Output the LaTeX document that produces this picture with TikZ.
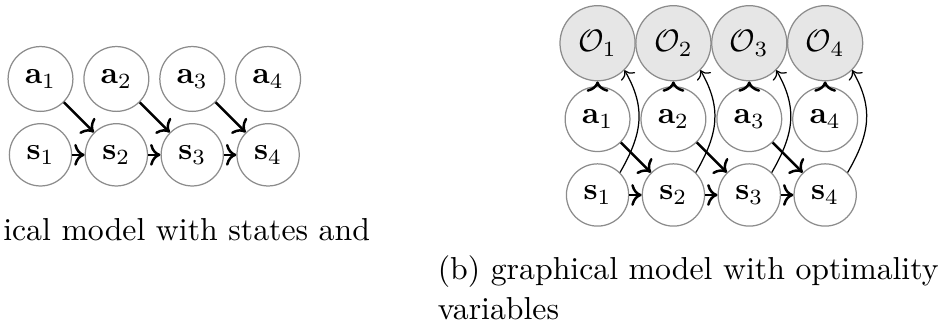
\documentclass[tikz,border=0pt]{standalone}
\usetikzlibrary{arrows.meta}
\definecolor{node-fill}{HTML}{E6E6E6}
\definecolor{node-border}{HTML}{8C8C8C}
\tikzset{
  pgm-var/.style={circle, draw=node-border, thin},
  pgm-opt/.style={circle, draw=node-border, fill=node-fill, thin},
  pgm-edge/.style={-{To}, thick},
  pgm-link/.style={-{To}, thin},
  subcap/.style={inner sep=0pt, align=left,
    font=\fontsize{10.25}{12.9}\selectfont}
}

\begin{document}
\begin{tikzpicture}
  \useasboundingbox (0, 0) rectangle (10.70, 3.685);

  % (a) states and actions
  \node[pgm-var] (a1) at (0.459, 2.79) {$\mathbf{a}_1$};
  \node[pgm-var] (a2) at (1.319, 2.79) {$\mathbf{a}_2$};
  \node[pgm-var] (a3) at (2.179, 2.79) {$\mathbf{a}_3$};
  \node[pgm-var] (a4) at (3.039, 2.79) {$\mathbf{a}_4$};

  \node[pgm-var] (s1) at (0.459, 1.93) {$\mathbf{s}_1$};
  \node[pgm-var] (s2) at (1.319, 1.93) {$\mathbf{s}_2$};
  \node[pgm-var] (s3) at (2.179, 1.93) {$\mathbf{s}_3$};
  \node[pgm-var] (s4) at (3.039, 1.93) {$\mathbf{s}_4$};

  \draw[pgm-edge] (a1) -- (s2);
  \draw[pgm-edge] (a2) -- (s3);
  \draw[pgm-edge] (a3) -- (s4);
  \draw[pgm-edge] (s1) -- (s2);
  \draw[pgm-edge] (s2) -- (s3);
  \draw[pgm-edge] (s3) -- (s4);

  \node[subcap, anchor=base west] (cap-a) at (0.03, 0.964)
    {ical model with states and};

  % (b) with optimality variables
  \node[pgm-opt] (o1) at (6.773, 3.195) {$\mathcal{O}_1$};
  \node[pgm-opt] (o2) at (7.633, 3.195) {$\mathcal{O}_2$};
  \node[pgm-opt] (o3) at (8.493, 3.195) {$\mathcal{O}_3$};
  \node[pgm-opt] (o4) at (9.353, 3.195) {$\mathcal{O}_4$};

  \node[pgm-var] (ra1) at (6.773, 2.335) {$\mathbf{a}_1$};
  \node[pgm-var] (ra2) at (7.633, 2.335) {$\mathbf{a}_2$};
  \node[pgm-var] (ra3) at (8.493, 2.335) {$\mathbf{a}_3$};
  \node[pgm-var] (ra4) at (9.353, 2.335) {$\mathbf{a}_4$};

  \node[pgm-var] (rs1) at (6.773, 1.475) {$\mathbf{s}_1$};
  \node[pgm-var] (rs2) at (7.633, 1.475) {$\mathbf{s}_2$};
  \node[pgm-var] (rs3) at (8.493, 1.475) {$\mathbf{s}_3$};
  \node[pgm-var] (rs4) at (9.353, 1.475) {$\mathbf{s}_4$};

  \draw[pgm-edge] (ra1) -- (o1);
  \draw[pgm-edge] (ra2) -- (o2);
  \draw[pgm-edge] (ra3) -- (o3);
  \draw[pgm-edge] (ra4) -- (o4);

  \draw[pgm-edge] (ra1) -- (rs2);
  \draw[pgm-edge] (ra2) -- (rs3);
  \draw[pgm-edge] (ra3) -- (rs4);
  \draw[pgm-edge] (rs1) -- (rs2);
  \draw[pgm-edge] (rs2) -- (rs3);
  \draw[pgm-edge] (rs3) -- (rs4);

  % state to optimality, bent to the right
  \draw[pgm-link] (rs1.45) to[out=60, in=-60, looseness=1.1] (o1.-45);
  \draw[pgm-link] (rs2.45) to[out=60, in=-60, looseness=1.1] (o2.-45);
  \draw[pgm-link] (rs3.45) to[out=60, in=-60, looseness=1.1] (o3.-45);
  \draw[pgm-link] (rs4.45) to[out=60, in=-60, looseness=1.1] (o4.-45);

  \node[subcap, anchor=base west] (cap-b) at (4.956, 0.068)
    {(b) graphical model with optimality\\variables};
\end{tikzpicture}
\end{document}
